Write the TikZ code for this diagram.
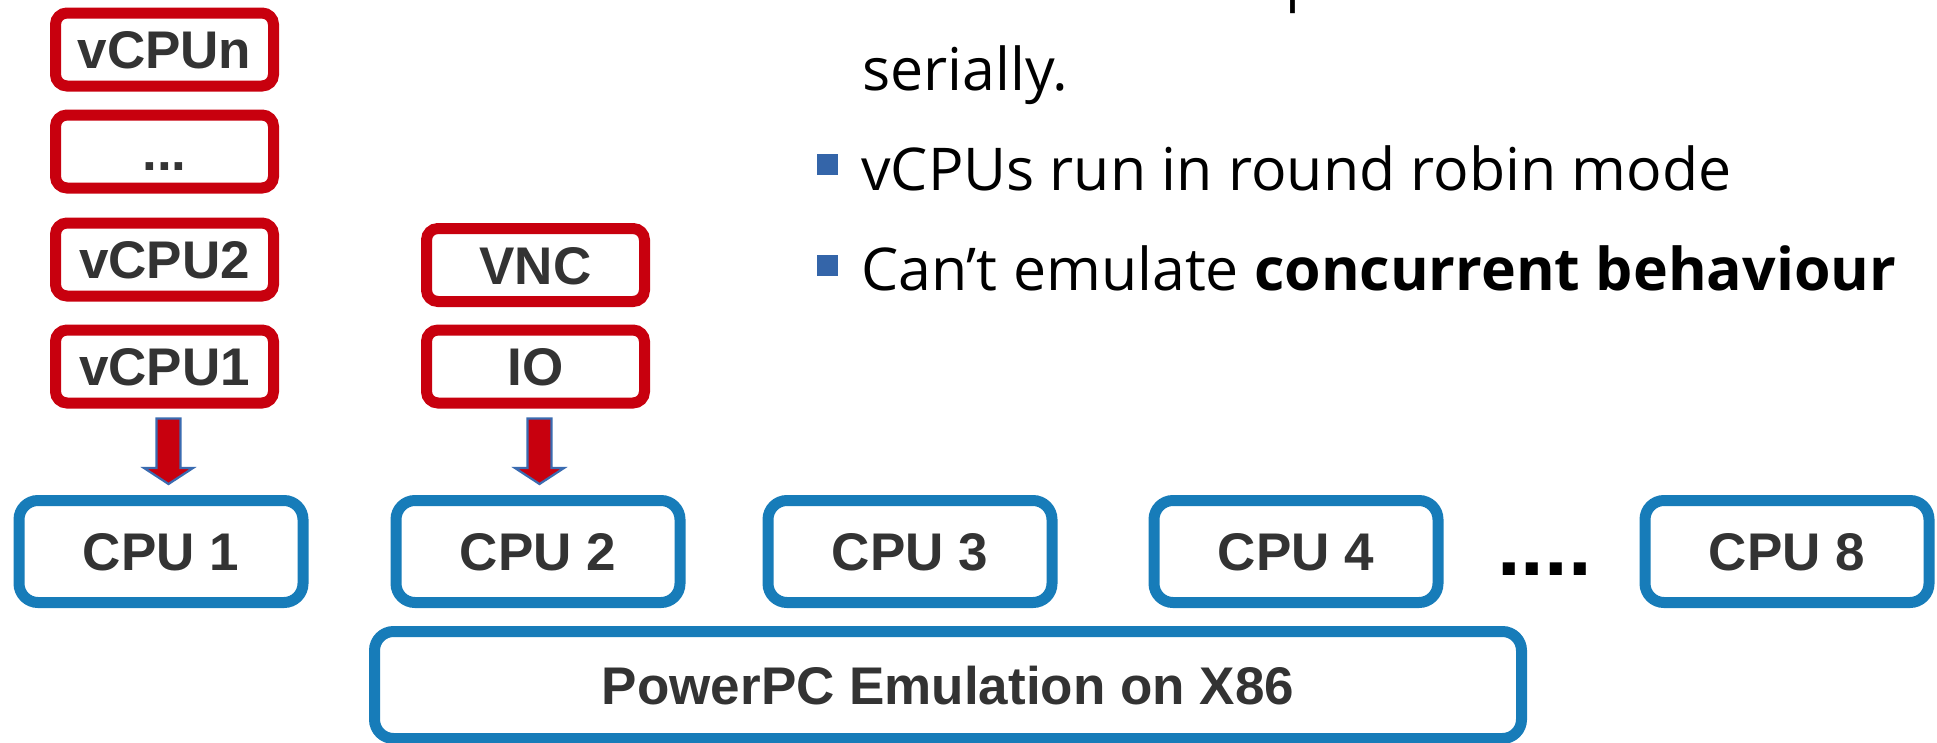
\documentclass[tikz,border=0pt]{standalone}
\usepackage{fontspec}
\setmainfont{Liberation Sans}
\newfontfamily\notefont{Open Sans}
\usetikzlibrary{calc}
\definecolor{boxred}{HTML}{C8000E}
\definecolor{boxblue}{HTML}{177CB9}
\definecolor{labelgray}{HTML}{333333}
\definecolor{bulletblue}{HTML}{3465A9}
\definecolor{arrowedge}{HTML}{3A6BB0}
\tikzset{
  boxlabel/.style={font=\bfseries\fontsize{53}{60}\selectfont, text=labelgray,
    text height=38pt, text depth=0pt, inner sep=0pt, outer sep=0pt},
  taskbox/.style={boxlabel, draw=boxred, line width=11pt, rounded corners=11.5pt,
    fill=white, minimum width=218pt, minimum height=73pt},
  cpubox/.style={boxlabel, draw=boxblue, line width=11pt, rounded corners=19pt,
    fill=white, minimum width=284pt, minimum height=102pt},
  blockarrow/.style={fill=boxred, draw=arrowedge, line width=2.2pt, line join=miter},
  notetext/.style={font=\notefont\fontsize{59}{70}\selectfont, text=black,
    anchor=base west, inner sep=0pt},
  bulletmark/.style={fill=bulletblue, draw=none, minimum size=21pt, inner sep=0pt},
}
\begin{document}
\begin{tikzpicture}[x=1pt, y=-1pt]
\useasboundingbox (0,0) rectangle (1937,742);

% guest tasks
\node[taskbox] (vn)  at (164.5, 49.5) {vCPUn};
\node[taskbox] (vd)  at (164.5,151.5) {...};
\node[taskbox] (v2)  at (164.5,259.5) {vCPU2};
\node[taskbox] (v1)  at (164.5,366.5) {vCPU1};
\node[taskbox] (vnc) at (535.5,265)   {VNC};
\node[taskbox] (io)  at (535.5,366.5) {IO};

% host CPUs
\node[cpubox] (c1) at (161,551.5)  {CPU 1};
\node[cpubox] (c2) at (538,551.5)  {CPU 2};
\node[cpubox] (c3) at (910,551.5)  {CPU 3};
\node[cpubox] (c4) at (1296,551.5) {CPU 4};
\node[cpubox] (c8) at (1787,551.5) {CPU 8};
\node[font=\bfseries\fontsize{85}{90}\selectfont, text=black, inner sep=0pt,
      anchor=base] (more) at (1544.5,575) {....};

% emulator layer
\node[cpubox, minimum width=1147pt, minimum height=107pt] (ppc) at (948,685)
  {PowerPC Emulation on X86};

% block arrows from the tasks to the CPUs
\coordinate (t1) at ($(v1.south)+(4,15.5)$);
\coordinate (h1) at ($(c1.north)+(7.5,-16.5)$);
\draw[blockarrow] ($(t1)+(-12,0)$) -- ($(t1 |- h1)+(-12,-16)$)
  -- ($(t1 |- h1)+(-24.5,-16)$) -- (h1) -- ($(t1 |- h1)+(24.5,-16)$)
  -- ($(t1 |- h1)+(12,-16)$) -- ($(t1)+(12,0)$) -- cycle;
\coordinate (t2) at ($(io.south)+(4,15.5)$);
\coordinate (h2) at ($(c2.north)+(1.5,-16.5)$);
\draw[blockarrow] ($(t2)+(-12,0)$) -- ($(t2 |- h2)+(-12,-16)$)
  -- ($(t2 |- h2)+(-24.5,-16)$) -- (h2) -- ($(t2 |- h2)+(24.5,-16)$)
  -- ($(t2 |- h2)+(12,-16)$) -- ($(t2)+(12,0)$) -- cycle;

% notes
\node[notetext] (prev) at (1285,-1) {p};
\node[notetext] (l1) at (862,90) {serially.};
\node[bulletmark] (b1) at (827.5,164.5) {};
\node[notetext] (l2) at (861,190) {vCPUs run in round robin mode};
\node[bulletmark] (b2) at (827.5,265.5) {};
\node[notetext] (l3) at (861,290) {Can’t emulate \textbf{concurrent behaviour}};
\end{tikzpicture}
\end{document}
